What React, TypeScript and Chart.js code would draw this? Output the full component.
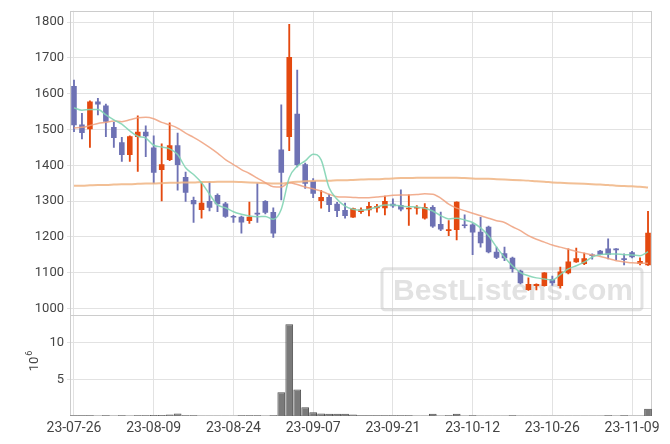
import { useEffect, useRef } from 'react';
import { Chart, registerables } from 'chart.js';

Chart.register(...registerables);

const dates = [
  '23-07-26', '23-07-27', '23-07-28', '23-07-31', '23-08-01', '23-08-02', '23-08-03', '23-08-04', '23-08-07', '23-08-08',
  '23-08-09', '23-08-10', '23-08-11', '23-08-14', '23-08-16', '23-08-17', '23-08-18', '23-08-21', '23-08-22', '23-08-23',
  '23-08-24', '23-08-25', '23-08-28', '23-08-29', '23-08-30', '23-08-31', '23-09-01', '23-09-04', '23-09-05', '23-09-06',
  '23-09-07', '23-09-08', '23-09-11', '23-09-12', '23-09-13', '23-09-14', '23-09-15', '23-09-18', '23-09-19', '23-09-20',
  '23-09-21', '23-09-22', '23-09-25', '23-09-26', '23-09-27', '23-10-04', '23-10-05', '23-10-06', '23-10-10', '23-10-11',
  '23-10-12', '23-10-13', '23-10-16', '23-10-17', '23-10-18', '23-10-19', '23-10-20', '23-10-23', '23-10-24', '23-10-25',
  '23-10-26', '23-10-27', '23-10-30', '23-10-31', '23-11-01', '23-11-02', '23-11-03', '23-11-06', '23-11-07', '23-11-08',
  '23-11-09', '23-11-10', '23-11-13',
];

const opens = [
  1622, 1514, 1501, 1578, 1567, 1507, 1464, 1429, 1479, 1494,
  1450, 1387, 1415, 1456, 1367, 1303, 1275, 1300, 1317, 1293,
  1258, 1256, 1244, 1267, 1300, 1269, 1444, 1479, 1544, 1403,
  1356, 1300, 1311, 1292, 1275, 1254, 1269, 1274, 1280, 1280,
  1292, 1289, 1277, 1279, 1251, 1283, 1236, 1216, 1219, 1234,
  1234, 1214, 1228, 1158, 1154, 1141, 1105, 1051, 1062, 1062,
  1082, 1062, 1098, 1129, 1124, 1150, 1161, 1167, 1167, 1140,
  1157, 1124, 1120,
];
const highs = [
  1638, 1545, 1580, 1587, 1571, 1520, 1478, 1482, 1538, 1510,
  1482, 1460, 1519, 1490, 1381, 1311, 1353, 1353, 1320, 1296,
  1260, 1258, 1297, 1349, 1301, 1281, 1569, 1794, 1666, 1406,
  1363, 1330, 1319, 1296, 1294, 1280, 1281, 1296, 1291, 1314,
  1306, 1331, 1317, 1287, 1293, 1287, 1269, 1245, 1298, 1261,
  1237, 1254, 1230, 1171, 1171, 1143, 1107, 1085, 1068, 1100,
  1090, 1115, 1166, 1168, 1154, 1152, 1162, 1194, 1167, 1152,
  1159, 1141, 1271,
];
const lows = [
  1494, 1474, 1450, 1541, 1480, 1450, 1411, 1411, 1383, 1424,
  1349, 1300, 1413, 1330, 1299, 1240, 1252, 1272, 1270, 1254,
  1240, 1210, 1237, 1240, 1264, 1198, 1303, 1441, 1395, 1335,
  1309, 1280, 1270, 1256, 1252, 1254, 1265, 1258, 1269, 1261,
  1282, 1272, 1232, 1263, 1249, 1226, 1217, 1203, 1191, 1225,
  1150, 1171, 1155, 1139, 1133, 1101, 1068, 1050, 1051, 1062,
  1064, 1056, 1096, 1128, 1122, 1137, 1149, 1138, 1135, 1121,
  1141, 1121, 1120,
];
const closes = [
  1512, 1490, 1578, 1570, 1522, 1476, 1429, 1481, 1494, 1481,
  1379, 1403, 1456, 1401, 1323, 1291, 1295, 1281, 1291, 1256,
  1254, 1240, 1256, 1262, 1267, 1209, 1379, 1703, 1401, 1348,
  1320, 1311, 1289, 1272, 1258, 1280, 1276, 1286, 1286, 1300,
  1285, 1276, 1281, 1281, 1283, 1229, 1220, 1221, 1298, 1230,
  1212, 1182, 1157, 1141, 1140, 1110, 1070, 1068, 1068, 1100,
  1070, 1103, 1131, 1140, 1140, 1146, 1150, 1150, 1162, 1135,
  1143, 1132, 1211,
];

const maShort = [
  1561, 1554, 1556, 1556, 1541, 1527, 1515, 1496, 1481, 1476,
  1456, 1451, 1446, 1430, 1393, 1374, 1351, 1319, 1289, 1281,
  1270, 1263, 1258, 1256, 1257, 1249, 1277, 1365, 1397, 1412,
  1431, 1415, 1337, 1305, 1286, 1277, 1274, 1277, 1283, 1289,
  1289, 1286, 1284, 1283, 1280, 1272, 1259, 1250, 1252, 1247,
  1240, 1225, 1203, 1171, 1143, 1119, 1100, 1091, 1085, 1082,
  1079, 1094, 1110, 1119, 1129, 1143, 1150, 1152, 1152, 1150,
  1149, 1147, 1158,
];
const maMid = [
  1504, 1506, 1511, 1517, 1520, 1524, 1522, 1527, 1533, 1534,
  1530, 1520, 1513, 1504, 1490, 1478, 1465, 1450, 1434, 1416,
  1402, 1388, 1377, 1364, 1351, 1340, 1339, 1351, 1346, 1339,
  1334, 1328, 1319, 1312, 1311, 1310, 1309, 1309, 1311, 1313,
  1316, 1317, 1317, 1318, 1320, 1319, 1308, 1291, 1280, 1273,
  1266, 1259, 1252, 1245, 1240, 1228, 1217, 1203, 1193, 1185,
  1177, 1171, 1165, 1159, 1154, 1149, 1145, 1139, 1133, 1130,
  1127, 1126, 1126,
];
const maLong = [
  1343, 1343, 1344, 1345, 1345, 1346, 1347, 1347, 1348, 1349,
  1349, 1350, 1351, 1351, 1352, 1352, 1353, 1353, 1354, 1354,
  1354, 1353, 1352, 1351, 1350, 1349, 1349, 1352, 1354, 1355,
  1356, 1357, 1357, 1358, 1358, 1359, 1360, 1361, 1361, 1362,
  1363, 1364, 1364, 1365, 1365, 1365, 1365, 1365, 1365, 1364,
  1363, 1362, 1362, 1361, 1360, 1359, 1358, 1357, 1355, 1354,
  1352, 1351, 1350, 1349, 1348, 1347, 1346, 1345, 1343, 1342,
  1341, 1340, 1338,
];

// volume in millions of shares
const volumes = [
  0.1, 0.1, 0.1, 0.02, 0.1, 0.02, 0.1, 0.02, 0.1, 0.1,
  0.15, 0.15, 0.2, 0.35, 0.1, 0.1, 0.02, 0.02, 0.02, 0.02,
  0.02, 0.1, 0.1, 0.1, 0.02, 0.1, 3.25, 12.5, 3.6, 1.2,
  0.5, 0.35, 0.3, 0.3, 0.3, 0.2, 0.1, 0.1, 0.1, 0.1,
  0.1, 0.1, 0.1, 0.02, 0.02, 0.3, 0.02, 0.1, 0.3, 0.02,
  0.1, 0.02, 0.02, 0.02, 0.02, 0.1, 0.02, 0.02, 0.02, 0.02,
  0.02, 0.02, 0.02, 0.02, 0.02, 0.02, 0.02, 0.1, 0.02, 0.1,
  0.02, 0.02, 1.0,
];

const priceTicks = [1000, 1100, 1200, 1300, 1400, 1500, 1600, 1700, 1800];
const volumeTicks = [5, 10];
const volumeUnitBase = '10';
const volumeUnitExp = '6';
const watermarkText = 'BestListens.com';

const UP = '#e4490f';
const DOWN = '#6e72b4';
const GRID = '#e2e2e2';
const FRAME = '#cccccc';

const candleColor = (i: number) => (closes[i] >= opens[i] ? UP : DOWN);

const framePlugin = {
  id: 'frameAndMarks',
  beforeDatasetsDraw(chart: any) {
    const { ctx, chartArea: a } = chart;
    const py = chart.scales.y;
    ctx.save();
    // watermark
    const bw = 260;
    const bh = 41;
    const bx = a.right - 10 - bw;
    const by = py.bottom - 5 - bh;
    ctx.strokeStyle = 'rgba(190,190,190,0.45)';
    ctx.lineWidth = 3;
    ctx.beginPath();
    (ctx as any).roundRect(bx, by, bw, bh, 3);
    ctx.stroke();
    ctx.fillStyle = 'rgba(190,190,190,0.45)';
    ctx.font = 'bold 30px "Liberation Sans", Arial, sans-serif';
    ctx.textAlign = 'center';
    ctx.textBaseline = 'alphabetic';
    ctx.fillText(watermarkText, bx + bw / 2 + 1, by + bh - 10);
    // frame
    ctx.strokeStyle = FRAME;
    ctx.lineWidth = 1;
    const l = Math.round(a.left) + 0.5;
    const r = Math.round(a.right) - 0.5;
    const t = Math.round(a.top) + 0.5;
    const b = Math.round(a.bottom) - 0.5;
    ctx.strokeRect(l, t, r - l, b - t);
    ctx.beginPath();
    const sy = Math.round(py.bottom) + 0.5;
    ctx.moveTo(l, sy);
    ctx.lineTo(r, sy);
    ctx.stroke();
    ctx.restore();
  },
  afterDraw(chart: any) {
    const { ctx } = chart;
    const vy = chart.scales.yv;
    ctx.save();
    ctx.fillStyle = '#444';
    const cy = (vy.top + vy.bottom) / 2;
    ctx.translate(38, cy + 6);
    ctx.rotate(-Math.PI / 2);
    ctx.font = '13px Roboto';
    ctx.textBaseline = 'alphabetic';
    ctx.textAlign = 'left';
    ctx.fillText(volumeUnitBase, 0, 0);
    const w = ctx.measureText(volumeUnitBase).width;
    ctx.font = '9px Roboto';
    ctx.fillText(volumeUnitExp, w + 1, -6);
    ctx.restore();
  },
};

export default function App() {
  const ref = useRef<HTMLCanvasElement | null>(null);

  useEffect(() => {
    document.body.style.margin = '0';
    if (!ref.current) return;
    Chart.defaults.font.family = 'Roboto';
    Chart.defaults.color = '#444';

    const chart = new Chart(ref.current, {
      type: 'bar',
      data: {
        labels: dates,
        datasets: [
          {
            type: 'line',
            label: 'MA short',
            data: maShort,
            yAxisID: 'y',
            borderColor: 'rgba(130,212,180,0.9)',
            borderWidth: 1.5,
            pointRadius: 0,
            cubicInterpolationMode: 'monotone',
            order: 0,
          },
          {
            type: 'line',
            label: 'MA mid',
            data: maMid,
            yAxisID: 'y',
            borderColor: 'rgba(238,160,124,0.85)',
            borderWidth: 1.5,
            pointRadius: 0,
            cubicInterpolationMode: 'monotone',
            order: 0,
          },
          {
            type: 'line',
            label: 'MA long',
            data: maLong,
            yAxisID: 'y',
            borderColor: 'rgba(240,180,130,0.85)',
            borderWidth: 2,
            pointRadius: 0,
            cubicInterpolationMode: 'monotone',
            order: 0,
          },
          {
            type: 'bar',
            label: 'body',
            data: opens.map((o, i) => [o, closes[i]]),
            yAxisID: 'y',
            backgroundColor: (c: any) => candleColor(c.dataIndex),
            borderWidth: 0,
            borderSkipped: false,
            barPercentage: 0.7,
            categoryPercentage: 1,
            minBarLength: 1.5,
            grouped: false,
            order: 1,
          } as any,
          {
            type: 'bar',
            label: 'wick',
            data: lows.map((lo, i) => [lo, highs[i]]),
            yAxisID: 'y',
            backgroundColor: (c: any) => candleColor(c.dataIndex),
            borderWidth: 0,
            barThickness: 1.2,
            grouped: false,
            order: 2,
          } as any,
          {
            type: 'bar',
            label: 'volume',
            data: volumes,
            yAxisID: 'yv',
            backgroundColor: '#7a7a7a',
            borderColor: '#505050',
            borderWidth: 1,
            barPercentage: 0.97,
            categoryPercentage: 1,
            grouped: false,
            order: 3,
          } as any,
        ],
      },
      options: {
        responsive: false,
        animation: false,
        devicePixelRatio: 1,
        layout: { padding: { top: 9, right: 18, left: 0, bottom: 0 } },
        plugins: { legend: { display: false }, tooltip: { enabled: false } },
        scales: {
          x: {
            type: 'category',
            offset: true,
            grid: {
              offset: false,
              drawTicks: false,
              color: (c: any) => (c.index % 10 === 0 ? GRID : 'rgba(0,0,0,0)'),
            },
            border: { display: false },
            ticks: {
              autoSkip: false,
              maxRotation: 0,
              padding: 4,
              font: { size: 14 },
              callback: (_v: any, i: number) => (i % 10 === 0 ? dates[i] : ''),
            },
            afterFit: (s: any) => {
              s.height = 28;
            },
          },
          yv: {
            type: 'linear',
            position: 'left',
            stack: 'main',
            stackWeight: 1,
            min: 0,
            max: 13.8,
            grid: { color: GRID, tickLength: 3 },
            border: { display: false },
            ticks: { padding: 3, font: { size: 13 }, callback: (v: any) => String(v) },
            afterBuildTicks: (s: any) => {
              s.ticks = volumeTicks.map((v) => ({ value: v }));
            },
            afterFit: (s: any) => {
              s.width = 70;
            },
          },
          y: {
            type: 'linear',
            position: 'left',
            stack: 'main',
            stackWeight: 3,
            min: 982,
            max: 1832,
            grid: { color: GRID, tickLength: 3 },
            border: { display: false },
            ticks: { padding: 3, font: { size: 13 }, callback: (v: any) => String(v) },
            afterBuildTicks: (s: any) => {
              s.ticks = priceTicks.map((v) => ({ value: v }));
            },
            afterFit: (s: any) => {
              s.width = 70;
            },
          },
        } as any,
      },
      plugins: [framePlugin],
    });
    return () => chart.destroy();
  }, []);

  return (
    <div style={{ width: 670, height: 444 }}>
      <canvas ref={ref} width={670} height={444} style={{ display: 'block' }} />
    </div>
  );
}
